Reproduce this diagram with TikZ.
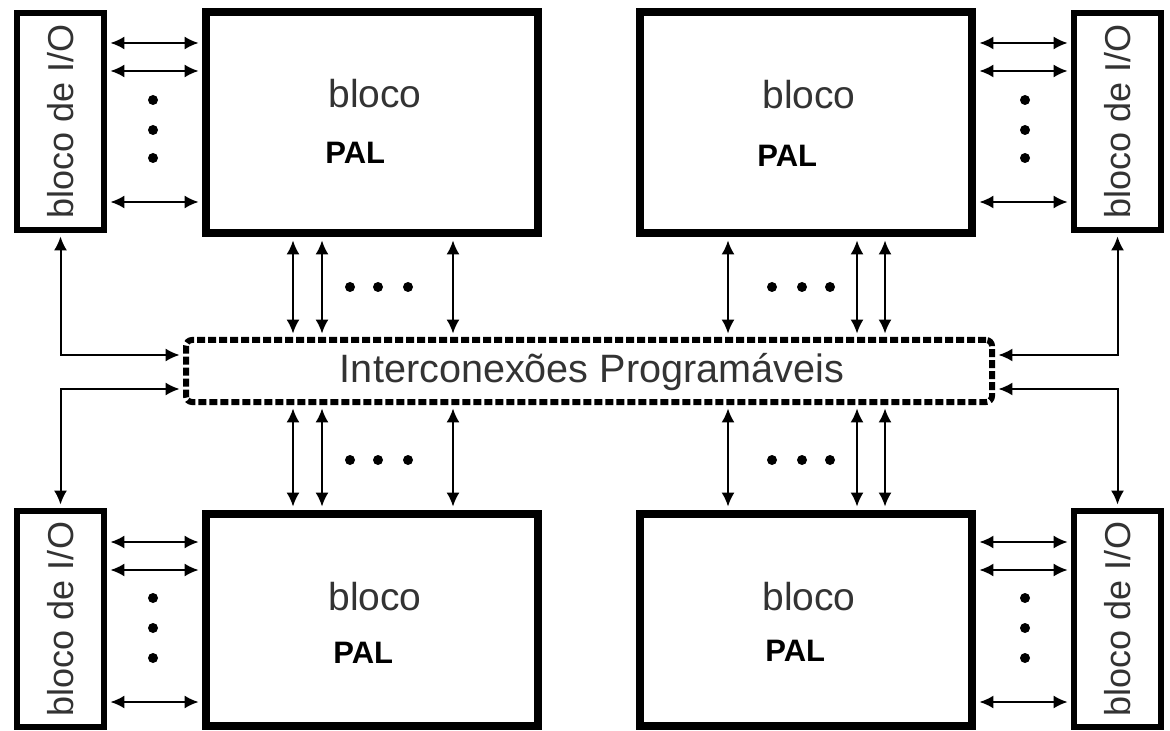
\documentclass[tikz,border=0pt]{standalone}
\usepackage{fontspec}
\setmainfont{Liberation Sans}
\usetikzlibrary{arrows.meta,positioning,calc}
\tikzset{%
  pal/.style={draw,rectangle,line width=4pt,minimum width=166pt,minimum height=110.5pt,inner sep=0pt},
  iobox/.style={draw,rectangle,line width=3pt,minimum width=43.5pt,minimum height=108.5pt,inner sep=0pt},
  bus/.style={draw,rectangle,line width=3pt,dash pattern=on 4pt off 1.5pt,rounded corners=3pt,%
              minimum width=403pt,minimum height=31pt,inner sep=0pt},
  line/.style={draw,line width=1pt,arrows={Latex[length=7pt,width=6.5pt]-Latex[length=7pt,width=6.5pt]},%
               shorten <=1.7pt,shorten >=1.7pt}
}
\begin{document}
\begin{tikzpicture}[x=0.5pt,y=-0.5pt,%
                    t/.style={inner sep=0pt,text=black!80,font=\fontsize{19.5}{20}\selectfont},%
                    b/.style={inner sep=0pt,font=\fontsize{15.5}{16}\selectfont\bfseries},%
                    io/.style={inner sep=0pt,rotate=90,text=black!80,font=\fontsize{18}{18}\selectfont}]
  \useasboundingbox (0,0) rectangle (1170,731);
  % blocos PAL
  \node[pal] (pal-tl) at (372,122.5) {};
  \node[pal] (pal-tr) at (806,122.5) {};
  \node[pal,minimum height=106pt] (pal-bl) at (372,620) {};
  \node[pal,minimum height=106pt] (pal-br) at (806,620) {};
  \node[t,anchor=base west] (bl-tl) at (328,108) {bloco};
  \node[b,anchor=base west] (p-tl) at (325,164) {PAL};
  \node[t,anchor=base west] (bl-tr) at (762,109) {bloco};
  \node[b,anchor=base west] (p-tr) at (757,167) {PAL};
  \node[t,anchor=base west] (bl-bl) at (328,610) {bloco};
  \node[b,anchor=base west] (p-bl) at (333,663) {PAL};
  \node[t,anchor=base west] (bl-br) at (762,610) {bloco};
  \node[b,anchor=base west] (p-br) at (765,661) {PAL};
  % blocos de I/O
  \node[iobox] (io-tl) at (60.5,121.5) {};
  \node[iobox] (io-tr) at (1117.5,121.5) {};
  \node[iobox,minimum height=108pt] (io-bl) at (60.5,619) {};
  \node[iobox,minimum height=108pt] (io-br) at (1117.5,619) {};
  \node[io] (l-tl) at (io-tl) {bloco de I/O};
  \node[io] (l-tr) at (io-tr) {bloco de I/O};
  \node[io] (l-bl) at (io-bl) {bloco de I/O};
  \node[io] (l-br) at (io-br) {bloco de I/O};
  % interconexoes
  \node[bus] (bus) at (589,371) {};
  \node[inner sep=0pt,text=black!80,font=\fontsize{19.8}{20}\selectfont] (bus-txt) at (592,372)
    {Interconexões Programáveis};
  % ligacoes
  \foreach \y in {43,71,202} {
    \draw[line] (io-tl.east |- 0,\y) -- (pal-tl.west |- 0,\y);
    \draw[line] (pal-tr.east |- 0,\y) -- (io-tr.west |- 0,\y);
  }
  \foreach \y in {542,570,702} {
    \draw[line] (io-bl.east |- 0,\y) -- (pal-bl.west |- 0,\y);
    \draw[line] (pal-br.east |- 0,\y) -- (io-br.west |- 0,\y);
  }
  \foreach \x in {293,322,453} {
    \draw[line] (pal-tl.south -| \x,0) -- (bus.north -| \x,0);
    \draw[line] (bus.south -| \x,0) -- (pal-bl.north -| \x,0);
  }
  \foreach \x in {728,857,885} {
    \draw[line] (pal-tr.south -| \x,0) -- (bus.north -| \x,0);
    \draw[line] (bus.south -| \x,0) -- (pal-br.north -| \x,0);
  }
  \draw[line] (io-tl.south) |- (bus.west |- 0,355);
  \draw[line] (bus.west |- 0,389) -| (io-bl.north);
  \draw[line] (io-tr.south) |- (bus.east |- 0,355);
  \draw[line] (bus.east |- 0,389) -| (io-br.north);
  % reticencias
  \foreach \y in {100,130,158,598,628,658} {
    \fill (153,\y) circle (2.5pt);
    \fill (1025,\y) circle (2.5pt);
  }
  \foreach \x in {350,378,408,772,802,830} {
    \fill (\x,287) circle (2.5pt);
    \fill (\x,460) circle (2.5pt);
  }
\end{tikzpicture}
\end{document}
